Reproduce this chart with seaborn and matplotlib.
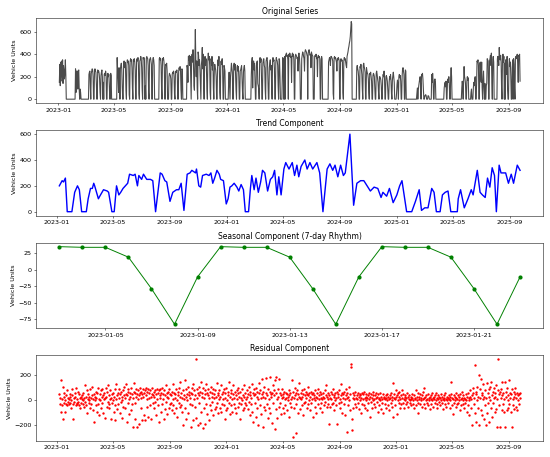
import matplotlib
matplotlib.use("Agg")
import matplotlib.pyplot as plt
import seaborn as sns
import pandas as pd

# daily vehicle units, starting 2023-01-03 (one line per week, Tue..Mon)
orig_values = [
    150, 310, 120, 330, 200, 340, 160,
    350, 140, 300, 260, 180, 230, 350,
    220, 0, 0, 0, 0, 0, 0,
    0, 0, 0, 0, 0, 0, 0,
    0, 0, 0, 0, 0, 0, 0,
    270, 60, 250, 240, 250, 90, 250,
    260, 80, 0, 90, 60, 0, 0,
    0, 0, 0, 0, 0, 0, 0,
    0, 0, 0, 0, 0, 0, 0,
    0, 220, 240, 250, 100, 0, 230,
    250, 270, 260, 200, 0, 0, 250,
    270, 250, 240, 150, 0, 0, 260,
    240, 250, 230, 180, 60, 0, 210,
    240, 260, 200, 0, 150, 0, 220,
    230, 210, 250, 220, 0, 0, 200,
    230, 200, 220, 130, 0, 0, 230,
    210, 0, 0, 0, 0, 0, 0,
    0, 0, 0, 0, 0, 0, 370,
    250, 180, 60, 280, 220, 0, 270,
    300, 320, 260, 110, 0, 0, 310,
    340, 280, 330, 290, 80, 0, 300,
    350, 330, 340, 300, 40, 0, 330,
    360, 340, 350, 280, 100, 0, 350,
    340, 360, 330, 260, 0, 0, 350,
    360, 340, 370, 300, 50, 0, 340,
    350, 380, 360, 280, 90, 0, 370,
    360, 370, 350, 0, 120, 0, 360,
    380, 370, 360, 300, 60, 0, 350,
    360, 370, 340, 310, 0, 0, 350,
    370, 350, 300, 0, 0, 0, 0,
    0, 0, 0, 0, 0, 0, 360,
    370, 350, 360, 300, 90, 0, 360,
    350, 370, 340, 280, 0, 0, 310,
    300, 320, 250, 0, 0, 0, 200,
    230, 220, 210, 180, 0, 0, 220,
    240, 230, 250, 200, 40, 0, 240,
    250, 240, 260, 220, 0, 0, 250,
    280, 260, 290, 250, 80, 0, 270,
    260, 0, 0, 0, 0, 0, 0,
    0, 0, 0, 300, 280, 150, 380,
    350, 390, 300, 380, 170, 0, 360,
    400, 330, 440, 300, 120, 80, 380,
    620, 350, 200, 340, 100, 0, 420,
    390, 300, 350, 260, 130, 0, 300,
    350, 460, 270, 400, 150, 0, 320,
    380, 300, 360, 270, 90, 0, 340,
    410, 350, 380, 300, 60, 0, 360,
    300, 380, 260, 330, 100, 0, 250,
    310, 280, 260, 200, 0, 0, 280,
    350, 300, 380, 250, 60, 0, 330,
    340, 310, 360, 260, 0, 0, 300,
    280, 250, 0, 0, 0, 0, 0,
    0, 0, 150, 240, 130, 0, 200,
    250, 320, 280, 240, 0, 0, 300,
    320, 260, 310, 220, 80, 0, 280,
    300, 250, 290, 200, 0, 0, 250,
    260, 280, 300, 170, 60, 0, 240,
    280, 300, 250, 0, 0, 0, 0,
    0, 0, 0, 0, 0, 0, 0,
    0, 0, 220, 330, 370, 100, 300,
    340, 260, 320, 160, 0, 0, 300,
    330, 340, 140, 120, 90, 0, 350,
    370, 330, 360, 200, 0, 0, 320,
    350, 360, 300, 280, 90, 0, 340,
    360, 370, 330, 150, 0, 0, 280,
    320, 350, 260, 300, 100, 0, 360,
    370, 340, 350, 270, 0, 0, 330,
    370, 350, 340, 300, 120, 0, 360,
    350, 200, 0, 0, 0, 0, 170,
    370, 360, 0, 0, 380, 0, 390,
    400, 410, 380, 390, 350, 0, 400,
    380, 410, 400, 370, 380, 150, 390,
    410, 380, 400, 350, 0, 0, 380,
    400, 390, 380, 360, 370, 250, 390,
    410, 380, 300, 0, 0, 0, 360,
    390, 420, 410, 380, 360, 250, 420,
    440, 430, 420, 400, 380, 0, 410,
    430, 440, 410, 390, 400, 280, 420,
    400, 390, 380, 0, 0, 0, 380,
    390, 380, 400, 360, 370, 200, 380,
    390, 370, 380, 360, 0, 0, 350,
    380, 360, 0, 0, 0, 0, 0,
    0, 0, 0, 0, 0, 0, 0,
    0, 330, 350, 370, 360, 300, 380,
    380, 370, 360, 340, 50, 0, 370,
    380, 360, 370, 350, 330, 250, 360,
    350, 370, 360, 340, 0, 0, 350,
    360, 340, 350, 330, 60, 0, 340,
    370, 350, 360, 330, 300, 280, 380,
    400, 420, 450, 470, 500, 520, 560,
    620, 690, 670, 0, 0, 0, 0,
    0, 0, 0, 0, 0, 0, 280,
    300, 270, 250, 200, 0, 0, 290,
    280, 310, 260, 220, 90, 0, 300,
    320, 290, 270, 240, 0, 0, 280,
    250, 230, 220, 180, 60, 0, 230,
    220, 240, 200, 160, 0, 0, 210,
    230, 220, 200, 100, 0, 0, 230,
    250, 220, 180, 150, 60, 0, 200,
    200, 190, 170, 120, 0, 0, 180,
    220, 200, 250, 180, 0, 0, 200,
    210, 190, 160, 90, 0, 0, 150,
    200, 180, 220, 160, 50, 0, 170,
    210, 240, 190, 150, 0, 0, 0,
    0, 50, 130, 170, 120, 0, 200,
    220, 190, 210, 160, 0, 0, 200,
    270, 280, 250, 220, 0, 0, 260,
    250, 0, 0, 0, 0, 0, 0,
    0, 0, 0, 0, 0, 0, 0,
    0, 0, 0, 0, 0, 0, 0,
    0, 0, 0, 50, 100, 0, 80,
    120, 150, 180, 200, 130, 0, 220,
    210, 230, 180, 80, 0, 0, 30,
    30, 40, 30, 0, 0, 0, 30,
    30, 20, 0, 0, 0, 0, 0,
    220, 150, 230, 160, 0, 0, 170,
    180, 160, 0, 0, 0, 0, 0,
    0, 0, 0, 0, 0, 0, 0,
    0, 0, 0, 0, 0, 0, 100,
    130, 150, 110, 160, 0, 0, 140,
    180, 150, 200, 140, 0, 0, 210,
    280, 200, 0, 0, 0, 0, 0,
    0, 0, 0, 0, 0, 0, 0,
    0, 0, 0, 0, 0, 0, 0,
    0, 0, 100, 160, 120, 0, 170,
    290, 200, 180, 140, 0, 0, 160,
    200, 170, 190, 0, 0, 0, 0,
    0, 60, 90, 0, 0, 0, 100,
    150, 120, 180, 200, 0, 0, 130,
    340, 330, 350, 300, 0, 0, 320,
    330, 190, 150, 330, 100, 0, 160,
    250, 130, 0, 140, 0, 0, 120,
    140, 360, 350, 340, 0, 0, 340,
    360, 390, 300, 410, 150, 0, 350,
    380, 330, 0, 0, 0, 0, 0,
    0, 0, 360, 380, 350, 300, 460,
    370, 350, 390, 330, 100, 0, 360,
    400, 330, 380, 0, 320, 0, 350,
    300, 220, 380, 80, 0, 0, 300,
    360, 290, 330, 200, 0, 0, 280,
    350, 0, 360, 310, 100, 0, 370,
    380, 360, 390, 400, 300, 150, 390,
    380, 400, 160,
]

# trend read at breakpoints: days after 2023-01-01 and value
trend_day = [
    5, 11, 14, 18, 22, 32, 38, 44, 48, 53,
    63, 67, 72, 76, 79, 81, 89, 92, 100, 108,
    111, 118, 123, 128, 133, 137, 142, 147, 152, 156,
    164, 168, 173, 176, 182, 186, 193, 201, 206, 212,
    222, 226, 232, 236, 243, 249, 257, 262, 267, 273,
    280, 286, 290, 298, 300, 305, 309, 313, 321, 327,
    331, 335, 339, 344, 349, 352, 358, 364, 368, 372,
    376, 381, 387, 391, 396, 401, 405, 412, 416, 419,
    424, 428, 433, 438, 442, 447, 453, 459, 464, 468,
    473, 477, 482, 488, 492, 499, 506, 511, 516, 520,
    525, 533, 538, 544, 550, 559, 565, 572, 581, 587,
    593, 598, 604, 610, 616, 620, 630, 638, 645, 653,
    660, 667, 674, 682, 690, 697, 701, 709, 715, 723,
    731, 737, 742, 752, 763, 768, 771, 779, 784, 791,
    798, 806, 811, 816, 824, 829, 835, 841, 847, 861,
    863, 868, 876, 884, 891, 895, 904, 910, 915, 921,
    926, 931, 936, 941, 945, 951, 955, 965, 971, 977,
    982, 990, 996,
]
trend_val = [
    200, 240, 230, 260, 0, 0, 150, 200, 170, 0,
    0, 100, 180, 180, 220, 200, 100, 120, 170, 160,
    150, 0, 0, 200, 130, 150, 180, 200, 220, 290,
    280, 290, 200, 280, 250, 290, 250, 250, 240, 0,
    300, 290, 240, 230, 80, 150, 170, 170, 220, 10,
    290, 300, 320, 300, 330, 200, 190, 280, 290, 280,
    300, 220, 260, 320, 290, 250, 240, 60, 100, 190,
    200, 220, 190, 160, 210, 170, 0, 0, 180, 280,
    170, 260, 150, 230, 320, 300, 160, 250, 270, 320,
    130, 270, 130, 330, 380, 330, 380, 280, 360, 270,
    350, 400, 330, 380, 330, 380, 300, 0, 330, 370,
    320, 360, 270, 360, 280, 300, 600, 50, 220, 240,
    240, 200, 160, 190, 180, 110, 150, 120, 180, 70,
    130, 200, 240, 0, 0, 50, 80, 170, 10, 30,
    30, 180, 150, 0, 0, 130, 150, 160, 0, 0,
    100, 170, 30, 100, 170, 130, 320, 150, 130, 110,
    260, 190, 340, 280, 0, 360, 300, 300, 220, 290,
    220, 360, 320,
]

# weekly seasonal component, first three weeks from 2023-01-03
seasonal_values = [35, 34, 34, 19, -29, -83, -11,
                   35, 34, 34, 19, -29, -83, -11,
                   35, 34, 34, 19, -29, -83, -11]

# daily residuals starting 2023-01-06
resid_values = [
    50, -30, 20, 160, -90, 10, -40, 110, -150, 30, -20, 60, -90, 0, 40, -30, 80, -40, 20, -10,
    -30, 10, 50, -20, 30, -60, 0, 40, 90, -30, -150, 20, -10, 60, 30, -40, 100, -20, 10, -30,
    70, -10, -40, 50, 20, -60, 30, -20, 10, 40, -30, 0, 60, -50, 20, 120, -10, 30, -40, 80,
    -100, 10, 50, -20, 30, 0, -60, 90, 20, -30, 40, 110, -80, 10, 50, -170, 30, 0, -40, 70,
    20, -90, 60, 100, -30, 10, -120, 50, 0, 80, -60, 30, 90, -20, 40, -100, 10, 60, -140, 20,
    100, 30, -50, 70, -10, 120, -60, 40, -30, 10, 80, -150, 20, 50, -20, 0, 60, -90, 30, -40,
    90, -160, 10, 130, -70, 40, 60, -30, 20, 90, -100, 50, -10, 70, 0, -140, 30, 80, -50, 40,
    110, 20, -60, 50, 130, -170, 40, 70, -20, 90, 10, -110, 60, 30, -80, 100, -30, 50, -210, 20,
    70, 140, -20, 60, -150, 30, 90, 50, -210, 10, 80, 40, -190, 60, 100, 20, -60, 70, -160, 50,
    90, 30, -120, 60, 80, -160, 40, 100, 10, -50, 70, -130, 90, 20, 60, -40, 80, 30, -150, 50,
    100, -20, 40, -60, 70, 30, -10, 80, -120, 50, 90, 10, 60, -40, 80, -170, 40, 90, 20, -90,
    60, 100, -30, 50, 10, -150, 80, 40, -70, 120, -10, 60, 30, -110, 70, 20, -60, 90, -30, 50,
    -20, 40, 70, -80, 10, 130, -40, 60, -100, 20, 50, -60, 90, 0, -130, 40, 70, -20, 100, -50,
    30, 150, -40, 60, -90, 20, 80, -200, 40, 10, 160, -60, 30, 90, -150, 50, 0, 110, -100, 40,
    70, -30, 20, -210, 60, 100, -40, 50, 130, -160, 10, 80, -50, 40, 330, -140, 20, 90, -200, 60,
    110, -20, 40, -180, 70, 150, -90, 30, 60, -220, 100, 20, -60, 80, -190, 50, 130, -30, 60, -110,
    40, 90, -160, 20, 70, -40, 110, -80, 30, 60, -10, 90, -120, 50, 20, -70, 80, 30, -50, 140,
    -20, 60, -100, 40, 10, 80, -60, 30, 120, -90, 50, -30, 70, 10, -40, 90, -150, 20, 60, -80,
    100, 0, -60, 40, 70, -20, 150, -110, 30, 60, -40, 80, 10, -90, 50, 120, -30, 20, -60, 70,
    40, -100, 80, 10, -50, 60, 100, -20, 30, -150, 70, 20, -30, 90, 0, -80, 40, 120, -60, 30,
    -20, 60, 10, -40, 80, 30, -70, 50, -10, 110, -120, 40, 70, -30, 20, 130, -90, 60, -170, 40,
    90, -20, 50, -130, 100, 30, -60, 70, 10, -200, 60, 140, -40, 80, 20, -110, 50, 170, -210, 30,
    70, -50, 110, 20, -80, 60, 180, -30, 40, -140, 90, 10, -60, 70, 190, -100, 30, 50, -180, 60,
    120, -20, 80, 40, -230, 160, 60, -70, 190, 10, -140, 90, 30, -50, 170, -20, 60, -110, 40, 20,
    90, -60, 30, 50, -100, 70, 10, -40, 60, 20, -80, 50, 0, 30, -130, 80, 40, -20, 60, 10,
    -50, 160, 30, -290, 70, 20, -60, 100, 40, -30, 60, -260, 10, 80, 50, -100, 30, 140, -70, 20,
    60, 10, -40, 80, 30, -120, 50, 90, -20, 40, -10, 70, 20, -60, 50, 110, -30, 40, 0, 60,
    -80, 30, 70, -20, 50, 10, -130, 60, 20, 40, -50, 80, 0, 30, -100, 60, 20, -30, 90, 10,
    40, -60, 70, 20, -20, 50, 10, -90, 30, 60, -40, 20, 80, -10, 40, 120, -50, 30, 10, -30,
    60, -190, 40, 20, -50, 70, 10, -30, 50, 90, -20, 40, -80, 30, 60, 0, -40, 20, 70, -190,
    30, 50, -20, 80, 10, -60, 40, 130, -10, 60, -100, 20, 50, -30, 70, 10, -120, 40, 90, -250,
    20, 60, -40, 30, 110, 0, 50, -80, 270, 290, -150, -240, 20, 60, -60, 40, 10, -30, 70, 20,
    -50, 40, 10, 60, -20, 30, -70, 50, 0, 40, -100, 20, 60, -30, 10, 50, -40, 70, 20, -60,
    30, 0, 50, -80, 20, 40, -20, 60, 10, -130, 30, 50, -10, 20, -60, 40, 0, 70, -30, 10,
    40, -50, 20, 60, -10, 30, -90, 50, 10, -40, 20, 0, 60, -70, 30, 10, -20, 50, -100, 20,
    30, -30, 10, 40, -60, 20, 50, 0, -40, 30, 10, -80, 40, 20, -20, 60, 0, -50, 30, 140,
    -130, 20, 50, -40, 10, 30, 80, -110, 40, 0, 60, -20, 30, 70, -60, 10, 40, -30, 20, 80,
    -20, 50, 10, -60, 30, 0, 40, -30, 20, 60, -10, 30, -50, 10, 40, 0, -20, 30, 10, -40,
    20, 50, -30, 0, 40, -60, 20, 10, 80, -40, 30, 0, -20, 60, -100, 30, 10, 50, -30, 20,
    0, -50, 40, 10, 70, -30, 20, 100, -60, 30, 0, 40, -20, 10, 50, -40, 20, 0, 30, -70,
    40, 10, -30, 60, 0, 20, -50, 30, 10, -20, 40, 0, 60, -30, 20, -60, 10, 40, -10, 30,
    -40, 20, 0, 50, -20, 30, 10, -70, 40, 0, 20, -30, 60, 10, -50, 30, 0, 20, -20, 40,
    10, -60, 30, 0, 50, 150, -40, 20, -110, 10, 40, -20, 30, 0, -50, 20, 60, -30, 10, 40,
    -20, 30, 0, -80, 50, 10, -40, 20, 70, -30, 0, 40, -60, 20, 10, -20, 50, 0, -90, 30,
    60, -40, 20, 0, -120, 80, 30, -60, 10, 40, -200, 100, 60, -30, 20, 280, -100, 50, -170, 70,
    0, 110, -60, 30, 200, -200, 90, 20, -80, 170, 40, -120, 60, 10, 130, -150, 30, -40, 80, -200,
    20, 140, -100, 60, -20, 90, -170, 30, 110, 0, -60, 150, 40, -130, 70, -20, 100, 20, -90, 60,
    30, -70, 120, 10, -210, 80, 330, 50, -40, 70, -210, 20, 90, -80, 40, 150, -30, 60, -90, 10,
    150, -210, 70, 30, -80, 100, 0, 40, -60, 160, -30, 60, 20, -90, 50, -210, 90, 10, -40, 70,
    30, -70, 50, 100, -50, 20, 60, -80, 40, 0, -30, 50, 20, 60,
]

orig_dates = pd.date_range("2023-01-03", periods=len(orig_values), freq="D")
trend_dates = pd.Timestamp("2023-01-01") + pd.to_timedelta(trend_day, unit="D")
seas_dates = pd.date_range("2023-01-03", periods=len(seasonal_values), freq="D")
resid_dates = pd.date_range("2023-01-06", periods=len(resid_values), freq="D")

fig, axes = plt.subplots(4, 1, figsize=(550 / 46, 457 / 46), dpi=46)

sns.lineplot(x=orig_dates, y=orig_values, ax=axes[0], color="#4a4a4a", linewidth=1.7)
axes[0].set_title("Original Series")

sns.lineplot(x=trend_dates, y=trend_val, ax=axes[1], color="blue", linewidth=2.2)
axes[1].set_title("Trend Component")

sns.lineplot(x=seas_dates, y=seasonal_values, ax=axes[2], color="green",
             linewidth=1.5, marker="o", markersize=6.5, markeredgewidth=0)
axes[2].set_title("Seasonal Component (7-day Rhythm)")

sns.scatterplot(x=resid_dates, y=resid_values, ax=axes[3], color="red", s=14, linewidth=0)
axes[3].set_title("Residual Component")

for ax in axes:
    ax.set_ylabel("Vehicle Units")
    ax.set_xlabel("")

plt.tight_layout()
plt.savefig("out.png", dpi=46)
